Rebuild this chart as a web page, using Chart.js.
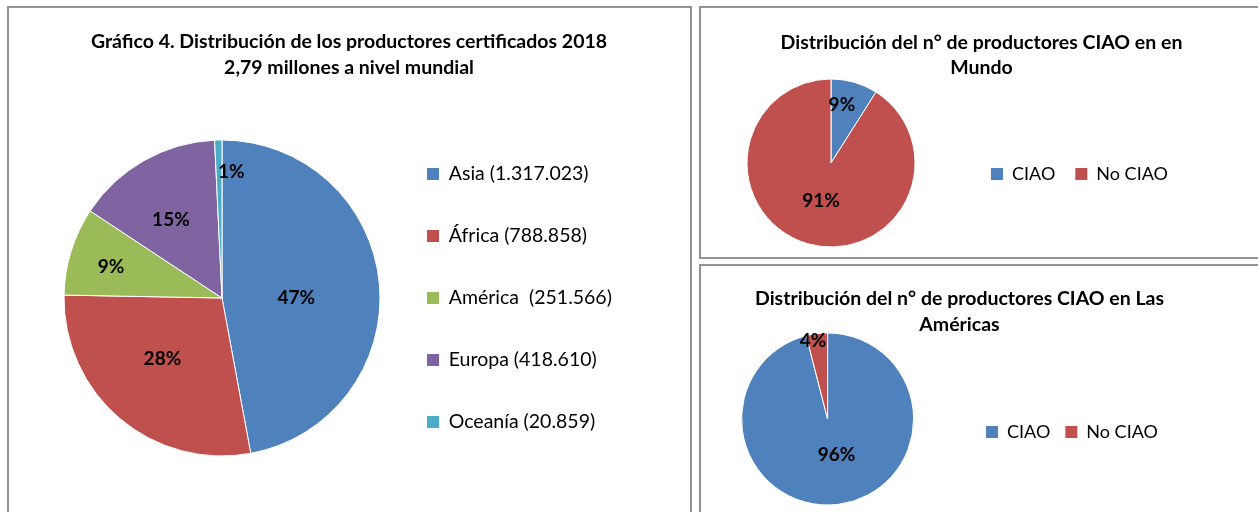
<!DOCTYPE html>
<html lang="es">
<head>
<meta charset="utf-8">
<title>Distribución de productores certificados</title>
<script src="https://cdn.jsdelivr.net/npm/chart.js@4.4.1/dist/chart.umd.min.js"></script>
<style>
  html, body { margin: 0; padding: 0; background: #fff; overflow: hidden; }
  body { width: 1258px; height: 512px; position: relative; }
  .panel { position: absolute; border: 2px solid #939393; box-sizing: content-box; }
  #panel-a { left: 7px;   top: 6px;   width: 681px; height: 520px; }
  #panel-b { left: 699px; top: 6px;   width: 600px; height: 249px; }
  #panel-c { left: 699px; top: 264px; width: 600px; height: 300px; }
  canvas { position: absolute; }
  #chart-a { left: 9px;   top: 8px; }
  #chart-b { left: 680px; top: 8px; }
  #chart-c { left: 680px; top: 266px; }
</style>
</head>
<body>
<div class="panel" id="panel-a"></div>
<div class="panel" id="panel-b"></div>
<div class="panel" id="panel-c"></div>
<canvas id="chart-a" width="681" height="504"></canvas>
<canvas id="chart-b" width="603" height="249"></canvas>
<canvas id="chart-c" width="559" height="246"></canvas>

<script>
/* ─── Data ───────────────────────────────────────────────────────────────── */
const REGIONS       = ['Asia', 'África', 'América ', 'Europa', 'Oceanía'];
const PRODUCERS     = [1317023, 788858, 251566, 418610, 20859];
const REGION_COLORS = ['#4f81bd', '#c0504d', '#9bbb59', '#8064a2', '#4bacc6'];

const CIAO_GROUPS   = ['CIAO', 'No CIAO'];
const CIAO_WORLD    = [9, 91];
const CIAO_AMERICAS = [96, 4];
const CIAO_COLORS   = ['#4f81bd', '#c0504d'];

const FONT = 'Lato, "Open Sans", sans-serif';

/* ─── Helpers ────────────────────────────────────────────────────────────── */
const fmt = v => String(v).replace(/\B(?=(\d{3})+(?!\d))/g, '.');

// legend squares without the white slice border
const legendLabels = chart =>
  Chart.overrides.pie.plugins.legend.labels.generateLabels(chart)
    .map(l => ({ ...l, lineWidth: 0 }));

// percentage labels inside the slices: [radius fraction, angle nudge in deg]
function pctLabels(place) {
  return {
    id: 'pctLabels',
    afterDatasetsDraw(chart) {
      const { ctx } = chart;
      const values = chart.data.datasets[0].data;
      const total  = values.reduce((s, v) => s + v, 0);
      ctx.save();
      ctx.font = `bold 19px ${FONT}`;
      ctx.fillStyle = '#000';
      ctx.textAlign = 'center';
      ctx.textBaseline = 'middle';
      chart.getDatasetMeta(0).data.forEach((arc, i) => {
        const [f, nudge] = place[i];
        const a = (arc.startAngle + arc.endAngle) / 2 + nudge * Math.PI / 180;
        const r = arc.outerRadius * f;
        ctx.fillText(Math.round(values[i] / total * 100) + '%',
                     arc.x + Math.cos(a) * r, arc.y + Math.sin(a) * r);
      });
      ctx.restore();
    }
  };
}

function pieConfig({ labels, values, colors, radius, title, titlePad, lineH,
                     padding, legendPad, legendSize, legendShift, place }) {
  return {
    type: 'pie',
    data: {
      labels,
      datasets: [{
        data: values,
        backgroundColor: colors,
        borderColor: '#ffffff',
        borderWidth: 1,
        radius
      }]
    },
    options: {
      responsive: false,
      animation: false,
      events: [],
      layout: { padding },
      plugins: {
        title: {
          display: true,
          text: title,
          color: '#000',
          font: { family: FONT, size: 19.5, weight: 'bold', lineHeight: lineH / 19.5 },
          padding: titlePad
        },
        // empty gutter right of the legend, sized after the first layout pass
        subtitle: {
          display: true,
          position: 'right',
          text: '',
          font: { size: 1, lineHeight: 1 },
          padding: { top: 0, bottom: 0, left: 0, right: 0 }
        },
        legend: {
          position: 'right',
          fullSize: false,
          maxWidth: 400,
          title: {
            display: legendShift > 0,
            text: '',
            padding: 0,
            font: { size: legendShift || 1, lineHeight: 1 }
          },
          labels: {
            boxWidth: 12,
            boxHeight: 12,
            padding: legendPad,
            color: '#000',
            font: { family: FONT, size: legendSize },
            generateLabels: legendLabels
          }
        },
        tooltip: { enabled: false }
      }
    },
    plugins: [pctLabels(place)]
  };
}

// keep the title centred on the panel: title centre - pie centre = span / 2
function fitGutter(chart, span) {
  const gutter = span - chart.legend.width;
  chart.options.plugins.subtitle.padding = { top: Math.max(gutter - 1, 0), bottom: 0, left: 0, right: 0 };
  chart.update();
  return chart;
}

/* ─── Render ─────────────────────────────────────────────────────────────── */
Chart.defaults.color = '#000';
Chart.defaults.font.family = FONT;

/* ── Gráfico 4: productores certificados por región ── */
fitGutter(new Chart(document.getElementById('chart-a'), pieConfig({
  labels: REGIONS.map((r, i) => `${r} (${fmt(PRODUCERS[i])})`),
  values: PRODUCERS,
  colors: REGION_COLORS,
  radius: 158,
  title: ['Gráfico 4. Distribución de los productores certificados 2018',
          '2,79 millones a nivel mundial'],
  titlePad: { top: 21, bottom: 10 },
  lineH: 26,
  padding: { left: 50.5, right: 51.5, top: 0, bottom: 7 },
  legendPad: 42.5,
  legendSize: 19.5,
  legendShift: 0,
  place: [[0.47, 5], [0.54, 4], [0.73, -1.6], [0.59, -3.6], [0.8, 5.6]]
})), 254);

/* ── CIAO en el mundo ── */
fitGutter(new Chart(document.getElementById('chart-b'), pieConfig({
  labels: CIAO_GROUPS,
  values: CIAO_WORLD,
  colors: CIAO_COLORS,
  radius: 84,
  title: ['Distribución del n° de productores CIAO en en', 'Mundo'],
  titlePad: { top: 22.5, bottom: 40 },
  lineH: 25,
  padding: { left: 11, right: 11, top: 0, bottom: 51.5 },
  legendPad: 20,
  legendSize: 18,
  legendShift: 22,
  place: [[0.70, -5.5], [0.47, -1.5]]
})), 301);

/* ── CIAO en Las Américas ── */
fitGutter(new Chart(document.getElementById('chart-c'), pieConfig({
  labels: CIAO_GROUPS,
  values: CIAO_AMERICAS,
  colors: CIAO_COLORS,
  radius: 86,
  title: ['Distribución del n° de productores CIAO en Las', 'Américas'],
  titlePad: { top: 20, bottom: 50 },
  lineH: 26,
  padding: { left: 4.2, right: 4.2, top: 0, bottom: 62 },
  legendPad: 15,
  legendSize: 18,
  legendShift: 26,
  place: [[0.43, -6.8], [0.92, -3.4]]
})), 263.8);
</script>
</body>
</html>
